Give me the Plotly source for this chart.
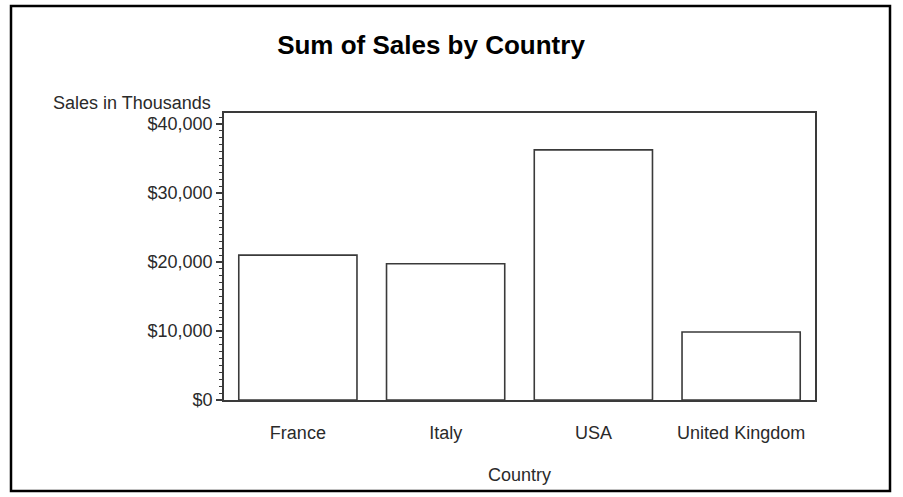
import plotly.graph_objects as go

countries = ["France", "Italy", "USA", "United Kingdom"]
sales = [21000, 19750, 36250, 9850]
y_ticks = [0, 10000, 20000, 30000, 40000]
y_tick_labels = ["$0", "$10,000", "$20,000", "$30,000", "$40,000"]

FONT = "Liberation Sans, Arial, sans-serif"
TXT = "#2a2a2a"
LINE = "#3a3a3a"

fig = go.Figure(
    go.Bar(
        x=countries,
        y=sales,
        marker=dict(color="white", line=dict(color=LINE, width=1.6)),
        hoverinfo="x+y",
    )
)

fig.update_layout(
    width=903,
    height=497,
    margin=dict(l=224, r=88, t=113, b=97),
    paper_bgcolor="white",
    plot_bgcolor="white",
    bargap=0.2,
    showlegend=False,
    font=dict(family=FONT, size=18, color=TXT),
    title=dict(
        text="<b>Sum of Sales by Country</b>",
        x=431 / 903,
        xanchor="center",
        xref="container",
        y=1 - 45 / 497,
        yanchor="middle",
        yref="container",
        font=dict(family=FONT, size=26, color="black"),
    ),
)

fig.update_xaxes(
    showgrid=False,
    showline=True,
    linecolor=LINE,
    linewidth=1.6,
    mirror=True,
    ticks="",
    ticklabelstandoff=16,
    tickfont=dict(size=18, color=TXT),
    title=dict(text="Country", standoff=26, font=dict(size=18, color=TXT)),
)

fig.update_yaxes(
    range=[0, 41600],
    showgrid=False,
    zeroline=False,
    showline=True,
    linecolor=LINE,
    linewidth=1.6,
    mirror=True,
    tickmode="array",
    tickvals=y_ticks,
    ticktext=y_tick_labels,
    ticks="outside",
    ticklen=6,
    tickwidth=1.5,
    tickcolor=LINE,
    tickfont=dict(size=18, color=TXT),
    minor=dict(dtick=1000, ticks="outside", ticklen=3, tickwidth=1.3, tickcolor=LINE),
)

fig.add_annotation(
    text="Sales in Thousands",
    xref="paper",
    yref="paper",
    x=(213 - 224) / 591,
    y=(400 - 103) / 287,
    xanchor="right",
    yanchor="middle",
    showarrow=False,
    font=dict(family=FONT, size=18, color=TXT),
)

# outer frame around the whole graphic
fig.add_shape(
    type="rect",
    xref="paper",
    yref="paper",
    x0=(11 - 224) / 591,
    x1=(890 - 224) / 591,
    y0=(400 - 491) / 287,
    y1=(400 - 6) / 287,
    line=dict(color="black", width=2.5),
    fillcolor="rgba(0,0,0,0)",
    layer="below",
)

fig.write_html(
    "out.html",
    config={"displayModeBar": False},
    post_script="document.body.style.margin='0';document.body.style.overflow='hidden';",
)
